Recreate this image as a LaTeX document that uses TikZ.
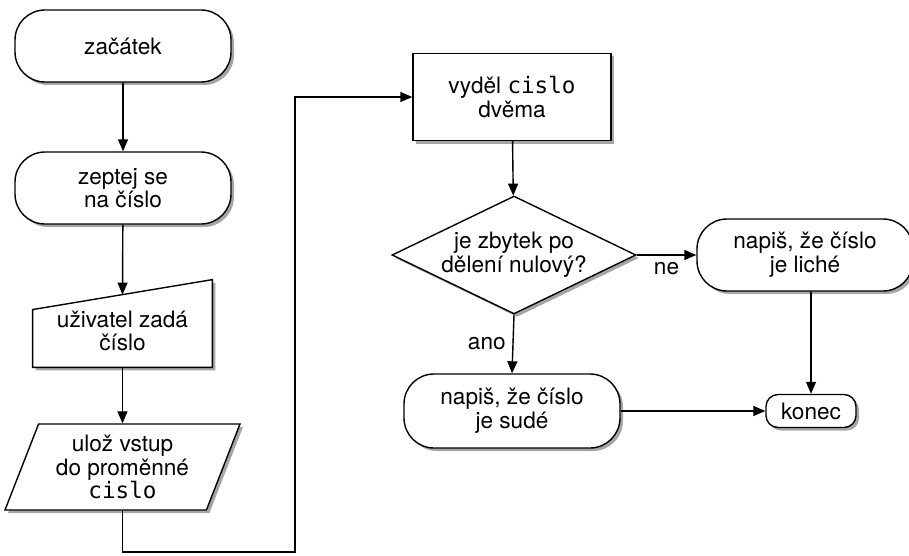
\documentclass[tikz,border=0pt]{standalone}
\usepackage{fontspec}
\setmainfont{TeX Gyre Heros}
\setmonofont{DejaVu Sans Mono}
\usetikzlibrary{shapes.geometric,shadows,arrows.meta,calc,backgrounds}

\tikzset{
  box/.style={draw, fill=white, line width=0.7pt, align=center, inner sep=2pt,
              font=\fontsize{11.3}{11.8}\selectfont,
              drop shadow={shadow xshift=1.5pt, shadow yshift=-1.5pt, opacity=1, fill=gray!70}},
  term/.style={box, rounded corners=15pt, minimum width=108pt, minimum height=36pt},
  proc/.style={box, minimum width=99pt, minimum height=43.5pt},
  store/.style={box, trapezium, trapezium left angle=65, trapezium right angle=115,
                trapezium stretches body, minimum width=117.5pt, minimum height=43pt},
  decide/.style={box, diamond, shape aspect=2, minimum width=122pt, minimum height=59pt, inner sep=0pt},
  halt/.style={box, rounded corners=6pt, minimum width=45pt, minimum height=16.5pt},
  manual/.style={align=center, inner sep=0pt, minimum width=89.5pt, minimum height=36pt,
                 font=\fontsize{11.3}{11.8}\selectfont},
  arr/.style={line width=0.7pt, -{Triangle[length=6pt,width=5pt]}},
  lbl/.style={font=\fontsize{11.3}{11.8}\selectfont},
}

\begin{document}
\begin{tikzpicture}[x=0.5pt, y=-0.5pt]
    \useasboundingbox (0,0) rectangle (909,556);

    % left column
    \node[term] (start) at (123,46) {začátek};
    \node[term] (ask) at (123,188) {zeptej se\\na číslo};
    \node[manual] (input) at (122.5,331) {uživatel zadá\\číslo};
    \begin{scope}[on background layer]
      \draw[line width=0.7pt, fill=white,
            drop shadow={shadow xshift=1.5pt, shadow yshift=-1.5pt, opacity=1, fill=gray!70}]
        (input.south west) -- ($(input.north west)+(0,15)$)
        -- ($(input.north east)+(0,-15)$) -- (input.south east) -- cycle;
    \end{scope}
    \node[store] (keep) at (122.5,467) {ulož vstup\\do proměnné\\\texttt{cislo}};

    % right part
    \node[proc] (divide) at (512,97) {vyděl \texttt{cislo}\\dvěma};
    \node[decide] (test) at (514,255) {je zbytek po\\dělení nulový?};
    \node[term] (odd) at (805,255) {napiš, že číslo\\je liché};
    \node[term, minimum height=37pt] (even) at (512,411) {napiš, že číslo\\je sudé};
    \node[halt] (stop) at (811,411) {konec};

    \coordinate (bend) at (295,552);

    \draw[arr] (start) -- (ask);
    \draw[arr] (ask) -- (input.north);
    \draw[arr] (input) -- (keep);
    \draw[arr] (keep.south) |- (bend) |- (divide.west);
    \draw[arr] (divide) -- (test);
    \draw[arr] (test.east) -- node[lbl, below] {ne} (odd.west);
    \draw[arr] (test.south) -- node[lbl, left] {ano} (even.north);
    \draw[arr] (stop.north |- odd.south) -- (stop.north);
    \draw[arr] (even.east) -- (stop.west);
\end{tikzpicture}
\end{document}
